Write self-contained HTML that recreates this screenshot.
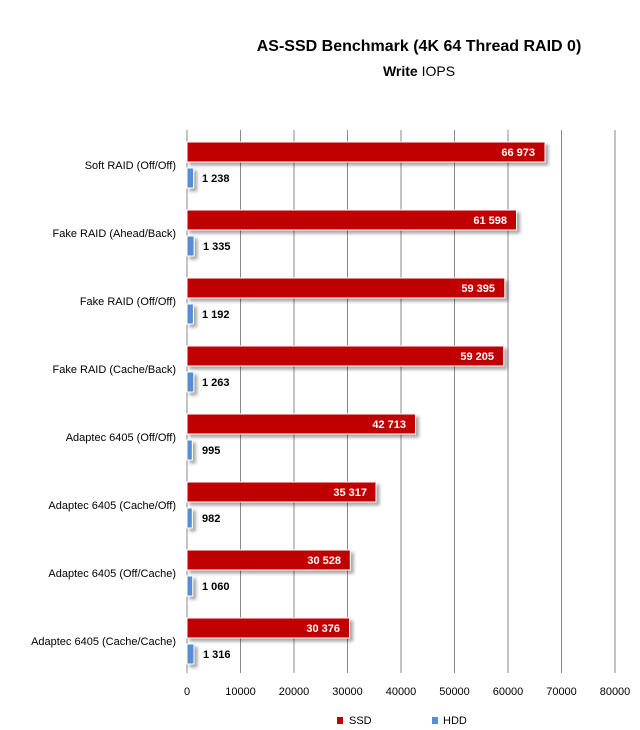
<!DOCTYPE html>
<html><head><meta charset="utf-8"><style>
body{margin:0;background:#fff;}
svg{display:block;font-family:"Liberation Sans",sans-serif;}
</style></head><body>
<svg width="640" height="730" xmlns="http://www.w3.org/2000/svg">
<defs><filter id="sh" x="-5%" y="-20%" width="115%" height="160%"><feDropShadow dx="3" dy="3" stdDeviation="1.5" flood-color="#000" flood-opacity="0.35"/></filter></defs>
<text x="419" y="51" font-size="16" font-weight="bold" text-anchor="middle" fill="#000">AS-SSD Benchmark (4K 64 Thread RAID 0)</text>
<text x="419" y="76" font-size="14" text-anchor="middle" fill="#000"><tspan font-weight="bold">Write</tspan> IOPS</text>
<g stroke="#8a8a8a" stroke-width="1">
<line x1="240.5" y1="130" x2="240.5" y2="673"/><line x1="294" y1="130" x2="294" y2="673"/><line x1="347.5" y1="130" x2="347.5" y2="673"/><line x1="401" y1="130" x2="401" y2="673"/><line x1="454.5" y1="130" x2="454.5" y2="673"/><line x1="508" y1="130" x2="508" y2="673"/><line x1="561.5" y1="130" x2="561.5" y2="673"/><line x1="615" y1="130" x2="615" y2="673"/>
<line x1="187" y1="130" x2="187" y2="673"/>
</g>
<g font-size="11" fill="#000" text-anchor="end">
<text x="176" y="169">Soft RAID (Off/Off)</text>
<text x="176" y="237">Fake RAID (Ahead/Back)</text>
<text x="176" y="305">Fake RAID (Off/Off)</text>
<text x="176" y="373">Fake RAID (Cache/Back)</text>
<text x="176" y="441">Adaptec 6405 (Off/Off)</text>
<text x="176" y="509">Adaptec 6405 (Cache/Off)</text>
<text x="176" y="577">Adaptec 6405 (Off/Cache)</text>
<text x="176" y="645">Adaptec 6405 (Cache/Cache)</text>
</g>
<g filter="url(#sh)" stroke="#fff" stroke-width="1">
<rect x="187" y="142" width="358" height="20" fill="#c00000"/>
<rect x="187" y="168" width="6.6" height="20" fill="#558ed5"/>
<rect x="187" y="210" width="329.5" height="20" fill="#c00000"/>
<rect x="187" y="236" width="7.1" height="20" fill="#558ed5"/>
<rect x="187" y="278" width="317.8" height="20" fill="#c00000"/>
<rect x="187" y="304" width="6.4" height="20" fill="#558ed5"/>
<rect x="187" y="346" width="316.7" height="20" fill="#c00000"/>
<rect x="187" y="372" width="6.8" height="20" fill="#558ed5"/>
<rect x="187" y="414" width="228.5" height="20" fill="#c00000"/>
<rect x="187" y="440" width="5.3" height="20" fill="#558ed5"/>
<rect x="187" y="482" width="189" height="20" fill="#c00000"/>
<rect x="187" y="508" width="5.3" height="20" fill="#558ed5"/>
<rect x="187" y="550" width="163.3" height="20" fill="#c00000"/>
<rect x="187" y="576" width="5.7" height="20" fill="#558ed5"/>
<rect x="187" y="618" width="162.5" height="20" fill="#c00000"/>
<rect x="187" y="644" width="7" height="20" fill="#558ed5"/>
</g>
<g font-size="11" font-weight="bold" fill="#fff" text-anchor="end">
<text x="535" y="156">66 973</text>
<text x="507" y="224">61 598</text>
<text x="495" y="292">59 395</text>
<text x="494" y="360">59 205</text>
<text x="406" y="428">42 713</text>
<text x="367" y="496">35 317</text>
<text x="341" y="564">30 528</text>
<text x="340" y="632">30 376</text>
</g>
<g font-size="11" font-weight="bold" fill="#000">
<text x="202" y="182">1 238</text>
<text x="203" y="250">1 335</text>
<text x="202" y="318">1 192</text>
<text x="202" y="386">1 263</text>
<text x="202" y="454">995</text>
<text x="202" y="522">982</text>
<text x="202" y="590">1 060</text>
<text x="203" y="658">1 316</text>
</g>
<g font-size="11" fill="#000" text-anchor="middle">
<text x="187" y="695">0</text><text x="240.5" y="695">10000</text><text x="294" y="695">20000</text><text x="347.5" y="695">30000</text><text x="401" y="695">40000</text><text x="454.5" y="695">50000</text><text x="508" y="695">60000</text><text x="561.5" y="695">70000</text><text x="615" y="695">80000</text>
</g>
<rect x="337" y="717" width="6" height="7" fill="#c00000"/>
<text x="349" y="724" font-size="11">SSD</text>
<rect x="432" y="717" width="6" height="7" fill="#558ed5"/>
<text x="443" y="724" font-size="11">HDD</text>
</svg>
</body></html>
